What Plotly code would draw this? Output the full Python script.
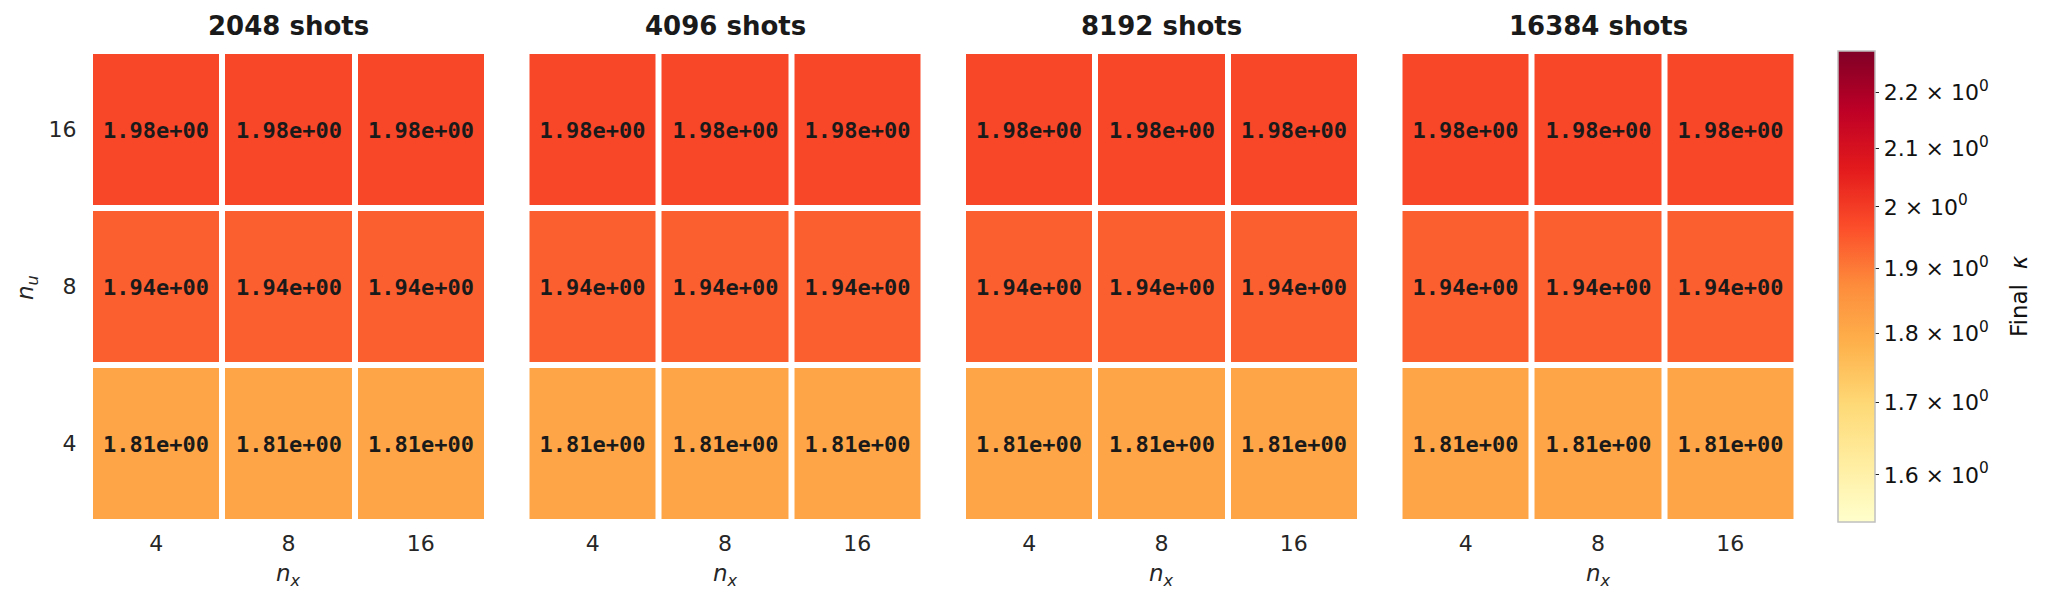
import numpy as np
import plotly.graph_objects as go

# ---- data ----
shots = [2048, 4096, 8192, 16384]
n_x = ["4", "8", "16"]
n_u = ["4", "8", "16"]  # bottom -> top
kappa_2048 = [[1.81, 1.81, 1.81], [1.94, 1.94, 1.94], [1.98, 1.98, 1.98]]
kappa_4096 = [[1.81, 1.81, 1.81], [1.94, 1.94, 1.94], [1.98, 1.98, 1.98]]
kappa_8192 = [[1.81, 1.81, 1.81], [1.94, 1.94, 1.94], [1.98, 1.98, 1.98]]
kappa_16384 = [[1.81, 1.81, 1.81], [1.94, 1.94, 1.94], [1.98, 1.98, 1.98]]
all_kappa = [kappa_2048, kappa_4096, kappa_8192, kappa_16384]
cbar_ticks = [1.6, 1.7, 1.8, 1.9, 2.0, 2.1, 2.2]

W, H = 2051, 604
vals = np.array(all_kappa)
vmin = vals.min() * 0.85
vmax = vals.max() * 1.15
zmin, zmax = np.log10(vmin), np.log10(vmax)

ylorrd = ["#ffffcc", "#ffeda0", "#fed976", "#feb24c", "#fd8d3c",
          "#fc4e2a", "#e31a1c", "#bd0026", "#800026"]
cscale = [[i / 8, c] for i, c in enumerate(ylorrd)]

FONT = "DejaVu Sans"
fig = go.Figure()

step = 436.5
x0, x1 = 90, 487
ytop, ybot = 51, 522
ydom = [1 - ybot / H, 1 - ytop / H]

def fmt_tick(v):
    s = ("%g" % v)
    return f"{s} × 10<sup>0</sup>"

for k, (s, kap) in enumerate(zip(shots, all_kappa)):
    z = np.log10(np.array(kap))
    text = [["%.2e" % v for v in row] for row in kap]
    ax = "" if k == 0 else str(k + 1)
    tr = go.Heatmap(
        x=n_x, y=n_u, z=z, text=text, texttemplate="%{text}",
        textfont=dict(family="DejaVu Sans Mono", size=22, color="#1a1a1a", weight="bold"),
        zmin=zmin, zmax=zmax, colorscale=cscale,
        xgap=6, ygap=6,
        xaxis="x" + ax, yaxis="y" + ax,
        showscale=(k == 0), hoverinfo="skip",
    )
    if k == 0:
        tr.colorbar = dict(
            x=1838 / W, xanchor="left", xpad=0, ypad=0,
            y=1 - (ytop + ybot) / 2 / H, yanchor="middle",
            len=ybot - ytop, lenmode="pixels", thickness=37,
            outlinecolor="#bfbfbf", outlinewidth=1.5,
            tickmode="array", tickvals=[np.log10(v) for v in cbar_ticks],
            ticktext=[fmt_tick(v) for v in cbar_ticks],
            ticks="outside", ticklen=4, tickcolor="#222", tickwidth=1,
            tickfont=dict(family=FONT, size=22, color="#111"),
        )
    fig.add_trace(tr)
    xd = [(x0 + k * step) / W, (x1 + k * step) / W]
    xa = dict(domain=xd, type="category", anchor="y" + ax,
              showgrid=False, zeroline=False, showline=False,
              ticks="outside", ticklen=2, tickcolor="rgba(0,0,0,0)",
              tickfont=dict(family=FONT, size=22, color="#262626"),
              fixedrange=True)
    ya = dict(domain=ydom, type="category", anchor="x" + ax,
              showgrid=False, zeroline=False, showline=False,
              ticks="outside", ticklen=8, tickcolor="rgba(0,0,0,0)",
              tickfont=dict(family=FONT, size=22, color="#262626"),
              showticklabels=(k == 0), fixedrange=True)
    fig.update_layout(**{"xaxis" + ax: xa, "yaxis" + ax: ya})
    xc = (x0 + x1) / 2 / W + k * step / W
    fig.add_annotation(text=f"<b>{s} shots</b>", xref="paper", yref="paper",
                       x=xc, y=1 - 26 / H,
                       xanchor="center", yanchor="middle", showarrow=False,
                       font=dict(family=FONT, size=26, color="#1a1a1a"))
    fig.add_annotation(text="<i>n</i><sub><i>x</i></sub>", xref="paper", yref="paper",
                       x=xc, y=1 - 575 / H,
                       xanchor="center", yanchor="middle", showarrow=False,
                       font=dict(family=FONT, size=23, color="#262626"))

fig.add_annotation(text="<i>n</i><sub><i>u</i></sub>", xref="paper", yref="paper",
                   x=27 / W, y=1 - 288 / H, textangle=-90,
                   xanchor="center", yanchor="middle", showarrow=False,
                   font=dict(family=FONT, size=23, color="#262626"))
fig.add_annotation(text="Final  <i>κ</i>", xref="paper", yref="paper",
                   x=2019 / W, y=1 - 296 / H, textangle=-90,
                   xanchor="center", yanchor="middle", showarrow=False,
                   font=dict(family=FONT, size=23, color="#111"))

fig.update_layout(width=W, height=H, margin=dict(l=0, r=0, t=0, b=0),
                  paper_bgcolor="white", plot_bgcolor="white",
                  font=dict(family=FONT))
fig.write_html("out.html")
